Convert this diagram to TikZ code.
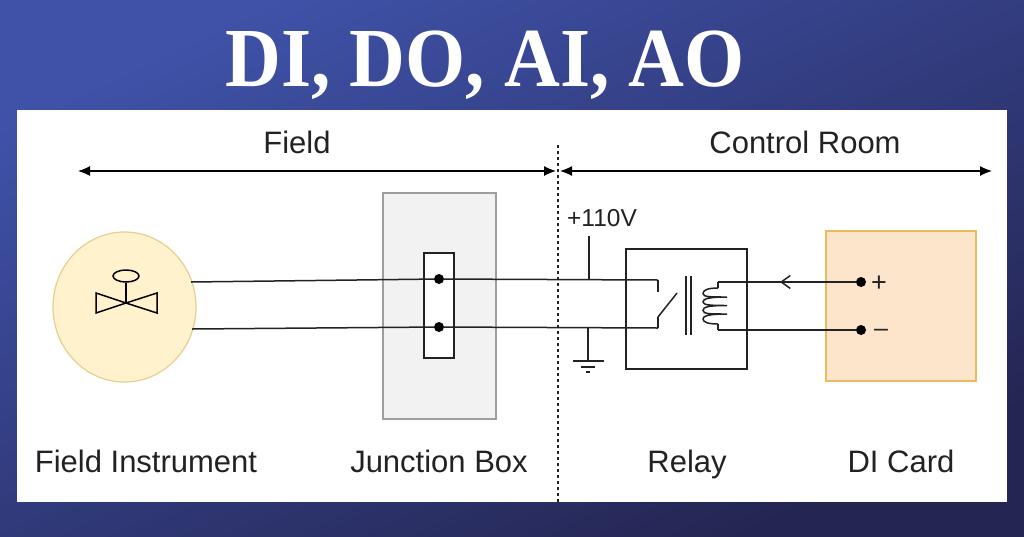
\documentclass[tikz,border=0pt]{standalone}
\usepackage{fontspec}
\setmainfont{Liberation Sans}
\newfontfamily\titlefont{Liberation Serif}
\usetikzlibrary{arrows.meta,shapes.geometric}

\definecolor{bgleft}{HTML}{3F52A8}
\definecolor{bgright}{HTML}{242551}
\definecolor{instfill}{HTML}{FFF2CC}
\definecolor{instline}{HTML}{E6CF8E}
\definecolor{cardfill}{HTML}{FDE5CC}
\definecolor{cardline}{HTML}{E8BC5E}
\definecolor{inkc}{HTML}{222222}

\tikzset{
  lbl/.style={inner sep=0pt,anchor=base,font=\fontsize{31}{34}\selectfont,text=inkc},
  wire/.style={draw=inkc,line width=1.5pt},
  dotc/.style={circle,fill=black,inner sep=0pt,minimum size=10pt},
  dim/.style={draw=black,line width=1.2pt,{Latex[length=12pt,width=10pt]}-{Latex[length=12pt,width=10pt]}}
}

\begin{document}
\begin{tikzpicture}
[x=1pt,y=-1pt]
\useasboundingbox (0,0) rectangle (1024,536);
\shade[left color=bgleft,right color=bgright,shading angle=25] (0,0) rectangle (1024,536);
\node[fill=white,minimum width=990pt,minimum height=392pt,inner sep=0pt] (panel) at (512,306) {};
\node[text=white,inner sep=0pt,anchor=base,xscale=.92,transform shape,font=\titlefont\bfseries\fontsize{84}{90}\selectfont] (title) at (485,86) {DI, DO, AI, AO};

\node[lbl] (l1) at (297,153) {Field};
\node[lbl] (l2) at (805,153) {Control Room};
\node[lbl] (l3) at (146,472) {Field Instrument};
\node[lbl] (l4) at (439,472) {Junction Box};
\node[lbl] (l5) at (687,472) {Relay};
\node[lbl] (l6) at (901,472) {DI Card};
\node[inner sep=0pt,anchor=base,text=inkc,font=\fontsize{24.5}{28}\selectfont] (l7) at (602,226) {+110V};

% boxes
\node[ellipse,draw=instline,fill=instfill,line width=1.2pt,minimum width=143pt,minimum height=150pt,inner sep=0pt] (inst) at (124.5,307) {};
\node[draw=black!38,fill=black!5,line width=1.6pt,minimum width=113pt,minimum height=226pt,inner sep=0pt] (jbox) at (439.5,306) {};
\node[draw=inkc,fill=white,line width=1.3pt,minimum width=30pt,minimum height=105pt,inner sep=0pt] (term) at (439,305.5) {};
\node[draw=inkc,fill=white,line width=1.2pt,minimum width=121pt,minimum height=120pt,inner sep=0pt] (relay) at (686.5,309) {};
\node[draw=cardline,fill=cardfill,line width=1.8pt,minimum width=150pt,minimum height=150pt,inner sep=0pt] (card) at (901,306) {};
\node[inner sep=0pt,text=inkc,font=\fontsize{27}{30}\selectfont] (plus) at (879,284) {+};
\node[inner sep=0pt,text=inkc,font=\fontsize{25}{28}\selectfont] (minus) at (881,333) {–};

% top rule
\coordinate (d1) at (78,171);
\coordinate (d2) at (556,171);
\coordinate (d3) at (560,171);
\coordinate (d4) at (992,171);
\coordinate (s1) at (558,145);
\coordinate (s2) at (558,502);
\draw[dim] (d1) -- (d2);
\draw[dim] (d3) -- (d4);
\draw[draw=inkc,line width=1.1pt,dash pattern=on 3pt off 3pt] (s1) -- (s2);

% wires
\node[dotc] (t1) at (439,279) {};
\node[dotc] (t2) at (439,327) {};
\node[dotc] (c1) at (861,282) {};
\node[dotc] (c2) at (861,330) {};
\coordinate (w1) at (191,282);
\coordinate (w2) at (192,329);
\coordinate (k1) at (658,280);
\coordinate (k2) at (658,292);
\coordinate (k3) at (658,328);
\coordinate (k4) at (658,317);
\coordinate (k5) at (677,293);
\coordinate (e1) at (589,280);
\coordinate (e2) at (589,236);
\coordinate (g1) at (588,328);
\coordinate (g2) at (588,361);
\coordinate (r1) at (718,282);
\coordinate (r2) at (718,288);
\coordinate (r3) at (718,330);
\coordinate (r4) at (718,324);
\coordinate (a1) at (780,282);
\foreach \from/\to in {w1/t1,w2/t2,t1/k1,t2/k3,k1/k2,k3/k4,k4/k5,e1/e2,g1/g2,r1/r2,r3/r4,r3/c2,r1/c1}
\draw[wire] (\from) -- (\to);
\draw[wire,-{Straight Barb[length=9pt,width=13pt]}] (c1) -- (a1);

% ground
\coordinate (g3) at (573,361);
\coordinate (g4) at (604,361);
\coordinate (g5) at (581,367);
\coordinate (g6) at (595,367);
\coordinate (g7) at (586,372);
\coordinate (g8) at (590,372);
\foreach \from/\to in {g3/g4,g5/g6,g7/g8}
\draw[wire] (\from) -- (\to);

% relay core and coil
\coordinate (b1) at (686,276);
\coordinate (b2) at (686,335);
\coordinate (b3) at (691,276);
\coordinate (b4) at (691,335);
\foreach \from/\to in {b1/b2,b3/b4}
\draw[wire] (\from) -- (\to);
\draw[wire] (r2) .. controls (708,288) and (703,290) .. (703,293.5)
  .. controls (703,297) and (710,297) .. (727,297)
  .. controls (708,297) and (703,299) .. (703,302)
  .. controls (703,305) and (710,305.5) .. (727,305.5)
  .. controls (708,305.5) and (703,307) .. (703,310.5)
  .. controls (703,314) and (710,314) .. (727,314)
  .. controls (708,314) and (703,316) .. (703,319)
  .. controls (703,322) and (708,324) .. (r4);

% valve
\node[ellipse,draw=black,fill=instfill,line width=1.5pt,minimum width=26pt,minimum height=12pt,inner sep=0pt] (hand) at (126,276) {};
\coordinate (v0) at (126,303);
\coordinate (v1) at (96,293);
\coordinate (v2) at (96,313);
\coordinate (v3) at (157,293);
\coordinate (v4) at (157,313);
\draw[line width=1.5pt] (hand) -- (v0);
\draw[line width=1.5pt,line join=miter] (v0) -- (v1) -- (v2) -- cycle;
\draw[line width=1.5pt,line join=miter] (v0) -- (v3) -- (v4) -- cycle;
\end{tikzpicture}
\end{document}
